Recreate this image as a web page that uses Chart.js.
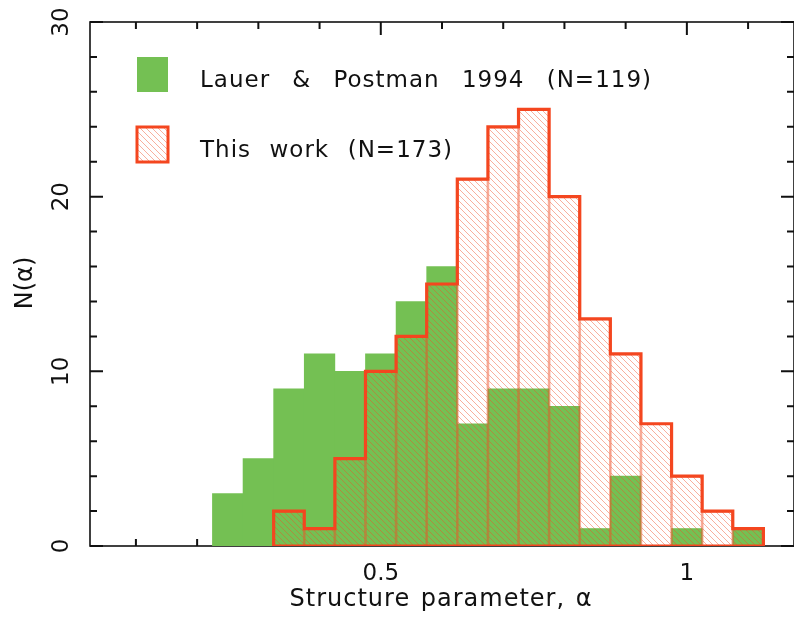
<!DOCTYPE html>
<html lang="en">
<head>
  <meta charset="UTF-8">
  <title>Structure parameter histogram</title>
  <style>
    body {
      margin: 0;
      background: #fff;
    }
    canvas {
      display: block;
    }
  </style>
</head>
<body>

<canvas id="histChart" width="794" height="620"></canvas>

<script src="https://cdn.jsdelivr.net/npm/chart.js"></script>
<script>
// histogram bins (centres) and counts
const binCenters = [0.25, 0.30, 0.35, 0.40, 0.45, 0.50, 0.55, 0.60, 0.65,
                    0.70, 0.75, 0.80, 0.85, 0.90, 0.95, 1.00, 1.05, 1.10];
const binWidth = 0.05;
const lauerCounts    = [3, 5, 9, 11, 10, 11, 14, 16, 7, 9, 9, 8, 1, 4, 0, 1, 0, 1];
const thisWorkCounts = [0, 0, 2, 1, 5, 10, 12, 15, 21, 24, 25, 20, 13, 11, 7, 4, 2, 1];

const legendLabels = ['Lauer & Postman 1994 (N=119)', 'This work (N=173)'];
const xTickValues = [0.5, 1];
const xTickLabels = ['0.5', '1'];
const yTickValues = [0, 10, 20, 30];
const yTickLabels = ['0', '10', '20', '30'];
const xTitle = 'Structure parameter, \u03b1';
const yTitle = 'N(\u03b1)';

const GREEN = '#74c053';
const RED = '#f4461f';
const HATCH = 'rgba(240, 80, 40, 0.45)';
const FONT = '"DejaVu Sans", sans-serif';

function hatchPattern(ctx) {
  const s = 6;
  const c = document.createElement('canvas');
  c.width = s; c.height = s;
  const p = c.getContext('2d');
  p.strokeStyle = HATCH;
  p.lineWidth = 1;
  p.beginPath();
  for (let k = -1; k <= 1; k++) {
    p.moveTo(k * s, 0);
    p.lineTo(k * s + s, s);
  }
  p.stroke();
  return ctx.createPattern(c, 'repeat');
}

// the original font is a bit wider, with wide gaps between words
function spacedText(ctx, text, x, y, width) {
  ctx.letterSpacing = '1px';
  ctx.wordSpacing = '0px';
  const w = ctx.measureText(text).width;
  const gaps = text.split(' ').length - 1;
  if (gaps > 0) ctx.wordSpacing = Math.max(0, (width - w) / gaps).toFixed(2) + 'px';
  ctx.fillText(text, x, y);
  ctx.wordSpacing = '0px';
  ctx.letterSpacing = '0px';
}

const ctx = document.getElementById('histChart').getContext('2d');
const hatch = hatchPattern(ctx);

// outline of "this work" histogram from its non-empty bins
const firstBin = thisWorkCounts.findIndex(v => v > 0);
let lastBin = thisWorkCounts.length - 1;
while (thisWorkCounts[lastBin] === 0) lastBin--;
const outline = [{ x: binCenters[firstBin] - binWidth / 2, y: 0 }];
for (let i = firstBin; i <= lastBin; i++) {
  outline.push({ x: binCenters[i] - binWidth / 2, y: thisWorkCounts[i] });
}
outline.push({ x: binCenters[lastBin] + binWidth / 2, y: thisWorkCounts[lastBin] });
outline.push({ x: binCenters[lastBin] + binWidth / 2, y: 0 });
outline.push({ x: binCenters[firstBin] - binWidth / 2, y: 0 });

const frame = {
  id: 'frame',
  beforeDatasetsDraw(chart) {
    const { ctx, chartArea: a, scales: { x, y } } = chart;
    ctx.save();
    ctx.strokeStyle = '#111';
    ctx.lineWidth = 1.6;
    ctx.strokeRect(a.left, a.top, a.right - a.left, a.bottom - a.top);
    ctx.lineWidth = 2;
    ctx.beginPath();
    for (let i = 1; i <= 11; i++) {
      const px = x.getPixelForValue(i / 10);
      const len = (i % 5 === 0) ? 13 : 7;
      ctx.moveTo(px, a.top); ctx.lineTo(px, a.top + len);
      ctx.moveTo(px, a.bottom); ctx.lineTo(px, a.bottom - len);
    }
    for (let v = 0; v <= 30; v += 2) {
      const py = y.getPixelForValue(v);
      const len = (v % 10 === 0) ? 13 : 7;
      ctx.moveTo(a.left, py); ctx.lineTo(a.left + len, py);
      ctx.moveTo(a.right, py); ctx.lineTo(a.right - len, py);
    }
    ctx.stroke();
    ctx.restore();
  },
  afterDraw(chart) {
    const { ctx, scales: { x, y } } = chart;
    ctx.save();
    ctx.fillStyle = '#111';

    // x tick labels and title
    ctx.font = '23px ' + FONT;
    ctx.textAlign = 'center';
    ctx.textBaseline = 'alphabetic';
    xTickValues.forEach((v, i) => ctx.fillText(xTickLabels[i], x.getPixelForValue(v), 580));
    ctx.font = '24px ' + FONT;
    ctx.textAlign = 'left';
    const tw = 303;
    spacedText(ctx, xTitle, 441 - tw / 2, 606, tw);

    // y tick labels (rotated) and title
    ctx.font = '23px ' + FONT;
    ctx.textAlign = 'center';
    ctx.textBaseline = 'middle';
    yTickValues.forEach((v, i) => {
      ctx.save();
      ctx.translate(62, y.getPixelForValue(v));
      ctx.rotate(-Math.PI / 2);
      ctx.fillText(yTickLabels[i], 0, 0);
      ctx.restore();
    });
    ctx.font = '24px ' + FONT;
    ctx.save();
    ctx.translate(26, 283);
    ctx.rotate(-Math.PI / 2);
    ctx.fillText(yTitle, 0, 0);
    ctx.restore();

    // legend
    ctx.fillStyle = GREEN;
    ctx.fillRect(137, 57, 31, 35);
    ctx.fillStyle = hatch;
    ctx.fillRect(137, 127, 31, 35);
    ctx.strokeStyle = RED;
    ctx.lineWidth = 3;
    ctx.strokeRect(137, 127, 31, 35);
    ctx.fillStyle = '#111';
    ctx.font = '23px ' + FONT;
    ctx.textAlign = 'left';
    ctx.textBaseline = 'alphabetic';
    spacedText(ctx, legendLabels[0], 200, 87, 452);
    spacedText(ctx, legendLabels[1], 200, 157, 253);
    ctx.restore();
  }
};

new Chart(ctx, {
  type: 'bar',
  data: {
    datasets: [
      {
        label: legendLabels[1] + ' outline',
        type: 'line',
        data: outline,
        borderColor: RED,
        borderWidth: 3.2,
        stepped: 'before',
        fill: false,
        pointRadius: 0,
        borderJoinStyle: 'miter',
        borderCapStyle: 'square',
        order: 0
      },
      {
        label: legendLabels[1],
        data: binCenters.map((c, i) => ({ x: c, y: thisWorkCounts[i] }))
                        .filter(p => p.y > 0),
        backgroundColor: hatch,
        borderColor: HATCH,
        borderWidth: 1,
        borderSkipped: 'start',
        order: 1
      },
      {
        label: legendLabels[0],
        data: binCenters.map((c, i) => ({ x: c, y: lauerCounts[i] })),
        backgroundColor: GREEN,
        borderWidth: 0,
        order: 2
      }
    ]
  },
  options: {
    responsive: false,
    animation: false,
    devicePixelRatio: 1,
    grouped: false,
    categoryPercentage: 1.0,
    barPercentage: 1.0,
    layout: { padding: { left: 90, top: 22, right: -2, bottom: 74 } },
    scales: {
      x: { type: 'linear', min: 0.025, max: 1.175, offset: false, display: false },
      y: { min: 0, max: 30, display: false }
    },
    plugins: {
      legend: { display: false },
      tooltip: { enabled: false }
    }
  },
  plugins: [frame]
});
</script>
</body>
</html>
